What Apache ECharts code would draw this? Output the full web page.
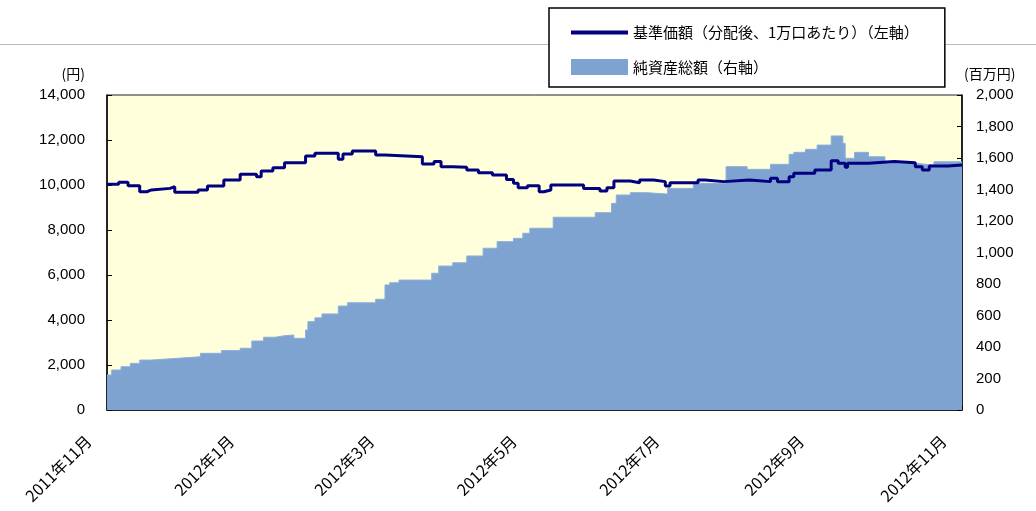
<!DOCTYPE html>
<html>
<head>
<meta charset="utf-8">
<script src="https://cdn.jsdelivr.net/npm/echarts@6/dist/echarts.min.js"></script>
<style>
html,body{margin:0;padding:0;background:#fff;}
#chart{width:1036px;height:511px;}
</style>
</head>
<body>
<div id="chart"></div>
<script>
// ---- data ----
const navName = '基準価額（分配後、1万口あたり）（左軸）';
const aumName = '純資産総額（右軸）';

const navDates = ['2011-11-01','2011-11-06','2011-11-10','2011-11-15','2011-11-18','2011-11-20','2011-11-28','2011-11-30','2011-12-10','2011-12-14','2011-12-21','2011-12-28','2012-01-04','2012-01-06','2012-01-11','2012-01-16','2012-01-25','2012-01-29','2012-02-08','2012-02-10','2012-02-14','2012-02-24','2012-02-28','2012-03-15','2012-03-20','2012-03-23','2012-03-28','2012-04-03','2012-04-08','2012-04-14','2012-04-20','2012-04-23','2012-04-25','2012-04-29','2012-05-04','2012-05-06','2012-05-09','2012-05-23','2012-05-30','2012-06-02','2012-06-05','2012-06-12','2012-06-16','2012-06-22','2012-06-27','2012-06-29','2012-07-11','2012-07-14','2012-07-22','2012-08-02','2012-08-11','2012-08-14','2012-08-19','2012-08-21','2012-08-30','2012-09-06','2012-09-09','2012-09-12','2012-09-13','2012-09-22','2012-10-03','2012-10-12','2012-10-15','2012-10-18','2012-10-26','2012-11-01'];
const navValues = [10030,10120,9970,9700,9780,9850,9925,9675,9780,9955,10220,10475,10370,10620,10770,10990,11290,11410,11140,11380,11510,11330,11260,10930,11040,10810,10785,10665,10550,10445,10250,10075,9880,9970,9700,9780,10000,9850,9735,9880,10180,10100,10220,10150,9955,10100,10220,10150,10220,10150,10300,10150,10370,10520,10665,11080,10965,10785,10965,11040,10990,10810,10665,10840,10890,10890];

const aumDates = ['2011-11-01','2011-11-03','2011-11-07','2011-11-11','2011-11-15','2011-11-20','2011-12-01','2011-12-11','2011-12-20','2011-12-28','2012-01-02','2012-01-07','2012-01-12','2012-01-16','2012-01-20','2012-01-25','2012-01-26','2012-01-29','2012-02-01','2012-02-08','2012-02-12','2012-02-24','2012-02-28','2012-03-01','2012-03-05','2012-03-19','2012-03-22','2012-03-28','2012-04-03','2012-04-10','2012-04-16','2012-04-23','2012-04-27','2012-04-30','2012-05-10','2012-05-28','2012-06-04','2012-06-06','2012-06-12','2012-06-19','2012-06-28','2012-07-09','2012-07-23','2012-08-01','2012-08-11','2012-08-19','2012-08-21','2012-08-26','2012-08-31','2012-09-06','2012-09-11','2012-09-12','2012-09-16','2012-09-22','2012-09-29','2012-10-12','2012-10-20','2012-11-01'];
const aumValues = [222,254,275,296,317,328,338,360,377,392,438,462,472,476,455,508,561,585,610,660,681,703,794,808,825,868,914,935,978,1027,1069,1090,1122,1154,1224,1253,1312,1365,1380,1371,1407,1439,1545,1528,1560,1623,1636,1655,1682,1740,1693,1598,1636,1608,1566,1555,1576,1576];

const monthTicks = ['2011-11-01','2012-01-01','2012-03-01','2012-05-01','2012-07-01','2012-09-01','2012-11-01'];
const monthLabels = ['2011年11月','2012年1月','2012年3月','2012年5月','2012年7月','2012年9月','2012年11月'];

// ---- helpers ----
function toTime(s){const p=s.split('-');return new Date(+p[0],+p[1]-1,+p[2]).getTime();}
const tickTimes = monthTicks.map(toTime);
function labelFor(v){let best=0;for(let i=1;i<tickTimes.length;i++){if(Math.abs(tickTimes[i]-v)<Math.abs(tickTimes[best]-v))best=i;}return monthLabels[best];}

const FONT = 'Liberation Sans, "Noto Sans CJK JP", sans-serif';
const JP = '"Noto Sans CJK JP", sans-serif';
const chart = echarts.init(document.getElementById('chart'));
chart.setOption({
  animation:false,
  backgroundColor:'#ffffff',
  textStyle:{fontFamily:FONT},
  graphic:[{type:'line',z:1,shape:{x1:0,y1:44.5,x2:1036,y2:44.5},style:{stroke:'#b8b8b8',lineWidth:1}}],
  legend:{
    orient:'vertical',left:549,top:8,z:10,
    padding:[17,26,12,22],itemGap:19,itemWidth:57,itemHeight:16,
    backgroundColor:'#ffffff',borderColor:'#000',borderWidth:1.5,
    textStyle:{fontSize:15,color:'#000',fontFamily:JP},
    data:[{name:navName,icon:'path://M0,0h57v4h-57z'},{name:aumName,icon:'rect'}]
  },
  grid:{left:107,right:74,top:95,bottom:101,show:true,backgroundColor:'#FFFFDC',borderColor:'#222',borderWidth:1},
  xAxis:{
    type:'value',min:toTime('2011-11-01'),max:toTime('2012-11-01'),
    axisLine:{show:true,lineStyle:{color:'#000',width:1.5}},
    axisTick:{show:true,inside:true,length:4,lineStyle:{color:'#000'},customValues:tickTimes},
    splitLine:{show:false},
    axisLabel:{customValues:tickTimes,rotate:45,margin:10,padding:[0,26,0,0],fontSize:16,color:'#000',
      fontFamily:JP,formatter:function(v){return labelFor(v);}}
  },
  yAxis:[{
    type:'value',min:0,max:14000,interval:2000,position:'left',
    name:'(円)',nameLocation:'end',nameGap:14,
    nameTextStyle:{fontSize:14,color:'#000',align:'right',padding:[0,22,0,0],fontFamily:JP},
    axisLine:{show:true,lineStyle:{color:'#000',width:1.5}},
    axisTick:{show:true,inside:true,length:5,lineStyle:{color:'#000'}},
    splitLine:{show:false},
    axisLabel:{margin:22,fontSize:15,color:'#000',formatter:function(v){return v.toLocaleString('en-US');}}
  },{
    type:'value',min:0,max:2000,interval:200,position:'right',
    name:'(百万円)',nameLocation:'end',nameGap:14,
    nameTextStyle:{fontSize:14,color:'#000',align:'left',padding:[0,0,0,2],fontFamily:JP},
    axisLine:{show:true,lineStyle:{color:'#000',width:1.5}},
    axisTick:{show:true,inside:true,length:5,lineStyle:{color:'#000'}},
    splitLine:{show:false},
    axisLabel:{margin:14,fontSize:15,color:'#000',formatter:function(v){return v.toLocaleString('en-US');}}
  }],
  series:[{
    name:aumName,type:'line',yAxisIndex:1,step:'end',symbol:'none',z:2,
    itemStyle:{color:'#7FA3D0'},
    lineStyle:{color:'#8DAEDA',width:1},
    areaStyle:{color:'#7FA3D0',opacity:1},
    data:aumDates.map(function(d,i){return [toTime(d),aumValues[i]];})
  },{
    name:navName,type:'line',yAxisIndex:0,step:'end',symbol:'none',z:3,
    itemStyle:{color:'#000080'},
    lineStyle:{color:'#000080',width:3},
    data:navDates.map(function(d,i){return [toTime(d),navValues[i]];})
  }]
});
</script>
</body>
</html>
